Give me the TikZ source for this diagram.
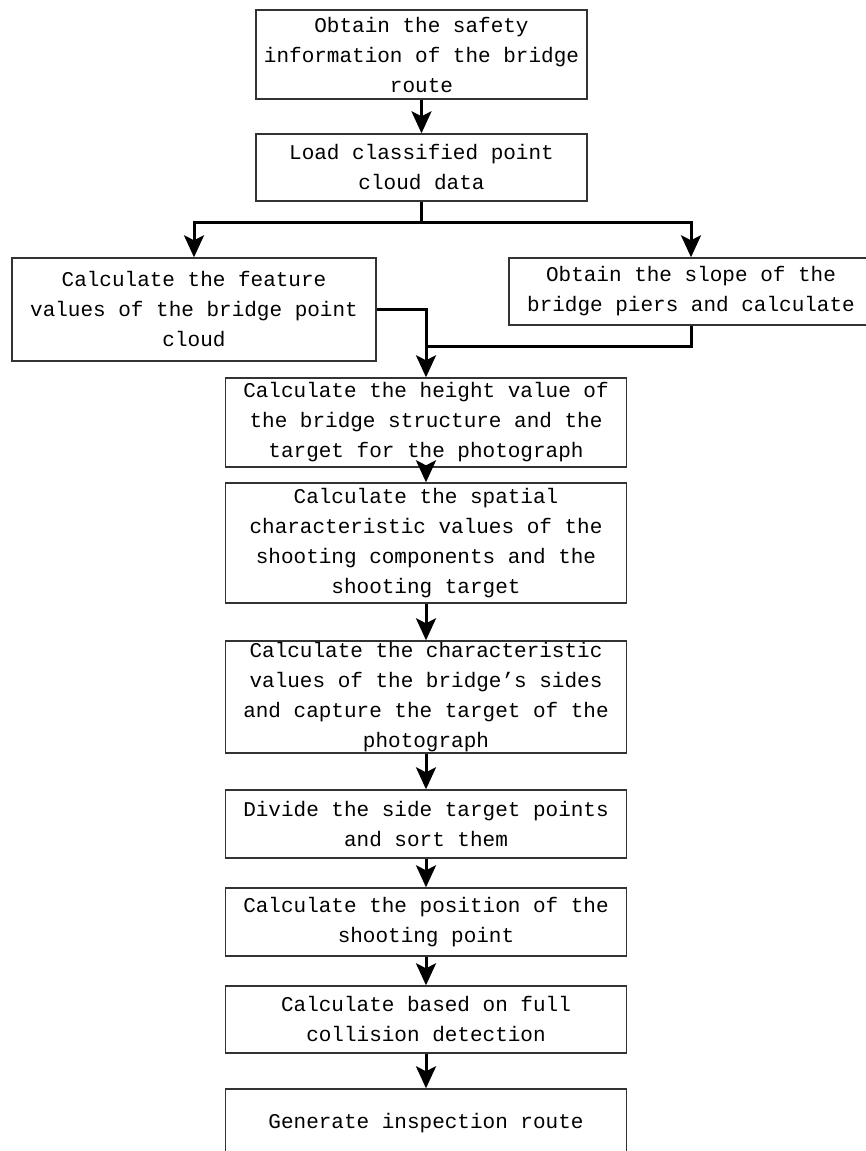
\documentclass[tikz,border=0pt]{standalone}
\usepackage{fontspec}
\setmainfont{Liberation Mono}
\usetikzlibrary{arrows.meta}

\begin{document}
\begin{tikzpicture}[x=1pt, y=-1pt]
% Box style
\tikzset{
    block/.style={draw=black!80, line width=1.4pt, align=center, inner sep=0pt,
        font=\fontsize{21}{30}\selectfont},
    wide/.style={block, minimum width=401, minimum height=#1},
    flow/.style={line width=3pt, -{Stealth[length=22pt, width=20pt, inset=5pt]}},
    wire/.style={line width=3pt}
}
\useasboundingbox (0, 0) rectangle (866, 1151);
\clip (0, 0) rectangle (866, 1151);

% Nodes
\node[block, minimum width=331, minimum height=89] (route) at (421.5, 54.5) {Obtain the safety\\information of the bridge\\route};
\node[block, minimum width=331, minimum height=67] (load) at (421.5, 167.5) {Load classified point\\cloud data};
\node[block, minimum width=364, minimum height=103] (feature) at (194, 309.5) {Calculate the feature\\values of the bridge point\\cloud};
\node[block, minimum width=364, minimum height=67] (slope) at (691, 291.5) {Obtain the slope of the\\bridge piers and calculate};
\node[wide=89] (height) at (426, 422.5) {Calculate the height value of\\the bridge structure and the\\target for the photograph};
\node[wide=120] (spatial) at (426, 543) {Calculate the spatial\\characteristic values of the\\shooting components and the\\shooting target};
\node[wide=112] (sides) at (426, 697) {Calculate the characteristic\\values of the bridge’s sides\\and capture the target of the\\photograph};
\node[wide=68] (divide) at (426, 824) {Divide the side target points\\and sort them};
\node[wide=68] (position) at (426, 922) {Calculate the position of the\\shooting point};
\node[wide=67] (collision) at (426, 1019.5) {Calculate based on full\\collision detection};
\node[wide=68] (generate) at (426, 1123) {Generate inspection route};

\coordinate (split) at (421.5, 222.5);
\coordinate (merge) at (426, 346);

% Connections
\draw[flow] (route) -- (load);
\draw[wire] (load) -- (split);
\draw[flow] (split) -| (feature);
\draw[flow] (split) -| (slope);

\draw[flow] (feature.east) -| (height);
\draw[wire] (slope) |- (merge);

\draw[flow] (height) -- (spatial);
\draw[flow] (spatial) -- (sides);
\draw[flow] (sides) -- (divide);
\draw[flow] (divide) -- (position);
\draw[flow] (position) -- (collision);
\draw[flow] (collision) -- (generate);
\end{tikzpicture}
\end{document}
